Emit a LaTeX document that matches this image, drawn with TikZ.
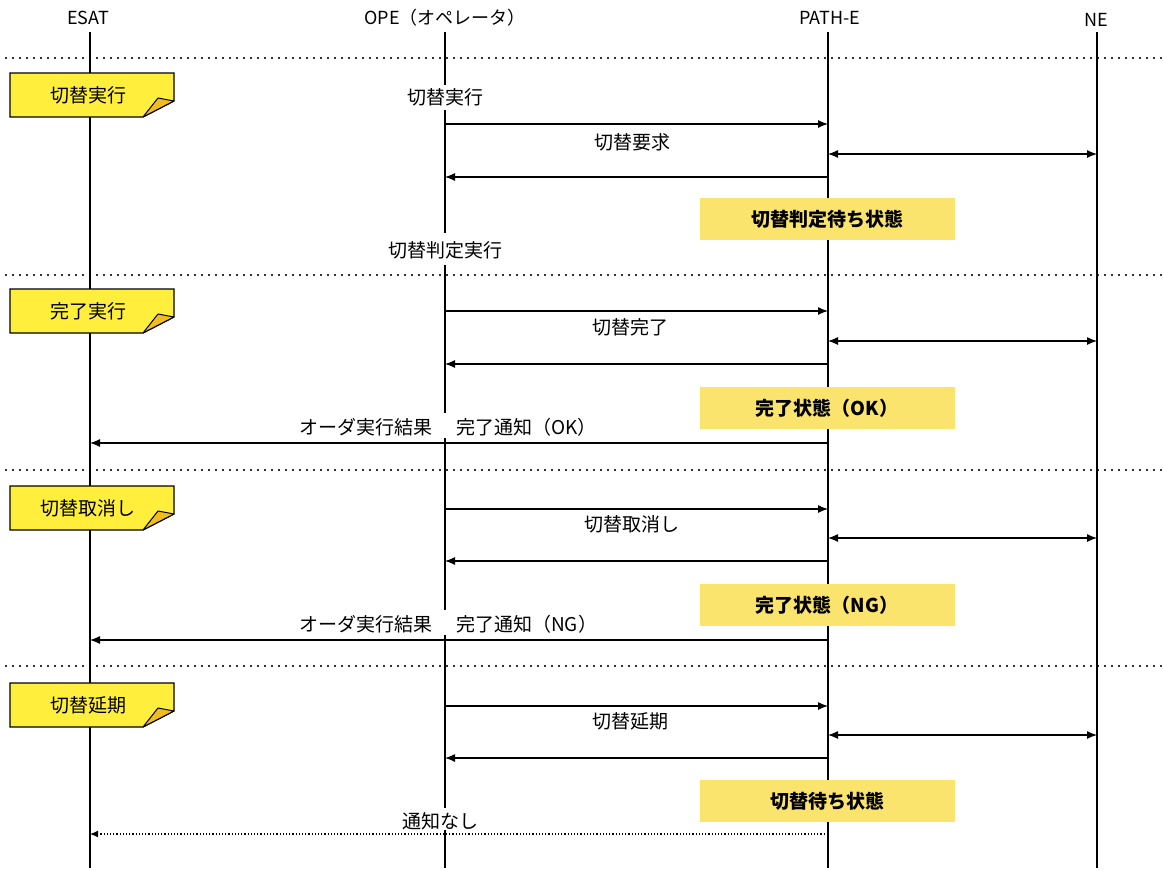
\documentclass[tikz,border=0pt]{standalone}
\usepackage{fontspec}
\setmainfont{Noto Sans CJK JP}
\usetikzlibrary{arrows.meta,calc}
\definecolor{notey}{RGB}{255,238,60}
\definecolor{flapy}{RGB}{240,188,30}
\definecolor{statey}{RGB}{250,228,110}
\newcommand{\mynote}[3]{% name, top y, text
  \draw[notepoly] (10,#2) -- (174,#2) -- (174,{#2+28}) -- (143,{#2+44}) -- (10,{#2+44}) -- cycle;
  \draw[flappoly] (143,{#2+44}) -- (158,{#2+25}) -- (174,{#2+28}) -- cycle;
  \node[notetxt] (#1) at (88,{#2+22}) {#3};
}
\newcommand{\mymsg}[4]{% from, to, y, style
  \draw[#4] ($(#1)+(0,#3)$) -- ($(#2)+(0,#3)$);
}
\begin{document}
\begin{tikzpicture}[x=1pt,y=-1pt,
  life/.style={line width=1.4pt},
  msg/.style={line width=1.2pt,-{Latex[length=10pt,width=8pt]}},
  bimsg/.style={line width=1.2pt,{Latex[length=10pt,width=8pt]}-{Latex[length=10pt,width=8pt]}},
  dotmsg/.style={line width=1.2pt,dash pattern=on 1.2pt off 2pt,-{Latex[length=8pt,width=7pt]}},
  sep/.style={line width=1.6pt, dash pattern=on 1.6pt off 5.4pt, black!80},
  lbl/.style={font=\fontsize{19}{22}\selectfont, inner sep=1pt},
  head/.style={font=\fontsize{18}{21}\selectfont, inner sep=1pt},
  notepoly/.style={line width=1.2pt, fill=notey},
  flappoly/.style={line width=1pt, fill=flapy, line join=round},
  notetxt/.style={font=\fontsize{19}{22}\selectfont, inner sep=1pt},
  statebox/.style={fill=statey, minimum width=255pt, minimum height=42pt, inner sep=0pt, font=\bfseries\fontsize{19}{22}\selectfont},
  ]
\useasboundingbox (0,0) rectangle (1164,870);
% headers
\node[head] (hE) at (88,18) {ESAT};
\node[head] (hO) at (445,18) {OPE（オペレータ）};
\node[head] (hP) at (830,18) {PATH-E};
\node[head] (hN) at (1096,20) {NE};
\coordinate (E) at (90,0);
\coordinate (O) at (445,0);
\coordinate (P) at (828,0);
\coordinate (N) at (1097,0);
% separators
\foreach \yy in {58,275,470,666} \draw[sep] (5,\yy) -- (1164,\yy);
% lifelines
\draw[life] ($(E)+(0,32)$) -- ($(E)+(0,868)$);
\draw[life] ($(P)+(0,32)$) -- ($(P)+(0,868)$);
\draw[life] ($(N)+(0,32)$) -- ($(N)+(0,868)$);
\foreach \a/\b in {32/85,110/233,265/413,438/610,635/808,830/868}
  \draw[life] ($(O)+(0,\a)$) -- ($(O)+(0,\b)$);
% notes on ESAT
\mynote{n1}{73}{切替実行}
\mynote{n2}{289}{完了実行}
\mynote{n3}{486}{切替取消し}
\mynote{n4}{683}{切替延期}
% OPE labels
\node[lbl] (o1) at (445,97) {切替実行};
\node[lbl] (o2) at (445,250) {切替判定実行};
% section 1
\mymsg{O}{P}{124}{msg}
\node[lbl] (l1) at (632,142) {切替要求};
\mymsg{P}{N}{154}{bimsg}
\mymsg{P}{O}{177}{msg}
\node[statebox] (s1) at (827,219) {切替判定待ち状態};
% section 2
\mymsg{O}{P}{311}{msg}
\node[lbl] (l2) at (630,327) {切替完了};
\mymsg{P}{N}{341}{bimsg}
\mymsg{P}{O}{364}{msg}
\node[statebox] (s2) at (827,408) {完了状態（OK）};
\node[lbl, anchor=east] (r2a) at (434,427) {オーダ実行結果};
\node[lbl, anchor=west] (r2b) at (455,427) {完了通知（OK）};
\mymsg{P}{E}{443}{msg}
% section 3
\mymsg{O}{P}{509}{msg}
\node[lbl] (l3) at (632,524) {切替取消し};
\mymsg{P}{N}{538}{bimsg}
\mymsg{P}{O}{561}{msg}
\node[statebox] (s3) at (827,605) {完了状態（NG）};
\node[lbl, anchor=east] (r3a) at (434,624) {オーダ実行結果};
\node[lbl, anchor=west] (r3b) at (455,624) {完了通知（NG）};
\mymsg{P}{E}{640}{msg}
% section 4
\mymsg{O}{P}{706}{msg}
\node[lbl] (l4) at (630,721) {切替延期};
\mymsg{P}{N}{735}{bimsg}
\mymsg{P}{O}{758}{msg}
\node[statebox] (s4) at (827,801) {切替待ち状態};
\node[lbl] (l5) at (440,821) {通知なし};
\mymsg{P}{E}{834}{dotmsg}
\end{tikzpicture}
\end{document}
